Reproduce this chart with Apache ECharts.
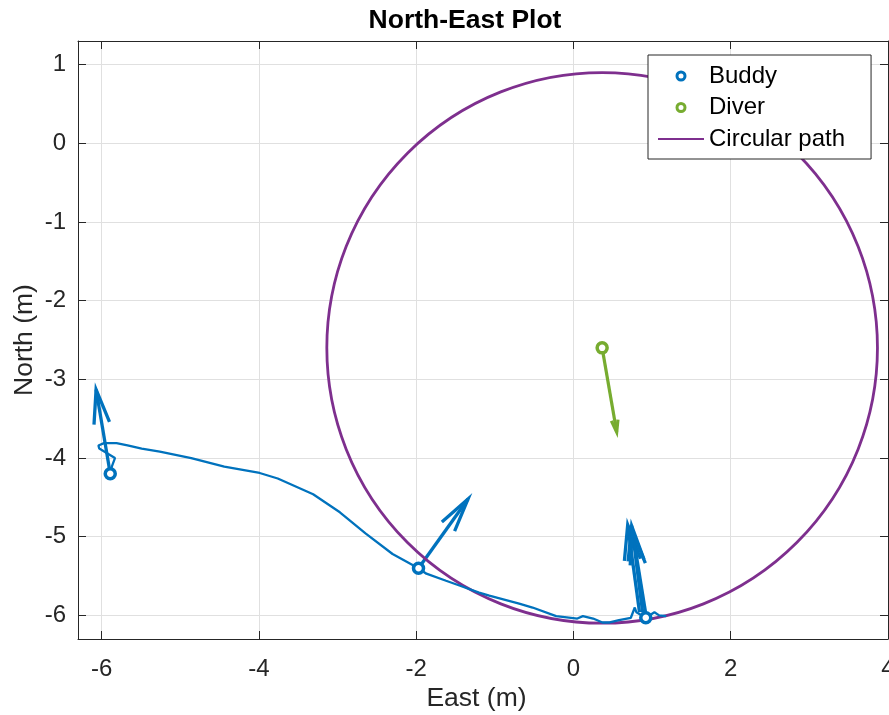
<!DOCTYPE html>
<html>
<head>
<meta charset="utf-8">
<title>North-East Plot</title>
<script src="https://cdn.jsdelivr.net/npm/echarts@6/dist/echarts.min.js"></script>
<style>
html, body { margin: 0; padding: 0; background: #fff; }
#main { width: 889px; height: 715px; }
</style>
</head>
<body>
<div id="main"></div>
<script>
var myChart = echarts.init(document.getElementById('main'));

// buddy track [east, north] in metres
var buddyPath = [
    [-5.89, -4.20], [-5.87, -4.11], [-5.83, -4.00], [-6.03, -3.88], [-6.04, -3.84],
    [-5.97, -3.81], [-5.81, -3.81], [-5.67, -3.84], [-5.49, -3.88], [-5.26, -3.92],
    [-4.86, -4.00], [-4.44, -4.11], [-3.99, -4.19], [-3.76, -4.26], [-3.31, -4.46],
    [-2.97, -4.69], [-2.64, -4.96], [-2.30, -5.22], [-1.97, -5.40], [-1.87, -5.47],
    [-1.62, -5.56], [-1.45, -5.62], [-1.20, -5.71], [-1.07, -5.75], [-0.69, -5.85],
    [-0.52, -5.90], [-0.22, -6.01], [0.05, -6.04], [0.12, -6.01], [0.25, -6.04],
    [0.37, -6.09], [0.46, -6.09], [0.58, -6.06], [0.73, -6.03], [0.78, -5.90],
    [0.80, -5.96], [0.92, -6.03], [1.03, -5.96], [1.09, -6.00], [1.18, -6.01]
];
var buddyMarks = [[-5.89, -4.20], [-1.97, -5.40], [0.92, -6.03]];
// quiver rows: east, north, dEast, dNorth
var buddyQuiver = [
    [-5.89, -4.20, -0.18, 1.07],
    [-1.97, -5.40, 0.63, 0.88],
    [0.84, -5.96, -0.15, 1.11],
    [0.88, -5.96, -0.14, 1.10],
    [0.92, -5.98, -0.17, 1.05]
];
var diverMarks = [[0.365, -2.6]];
var diverQuiver = [[0.365, -2.6, 0.185, -1.07]];
// circle: centre east, centre north, radius
var circlePath = [[0.365, -2.6, 3.5]];

var xTicks = [-6, -4, -2, 0, 2, 4];
var yTicks = [-6, -5, -4, -3, -2, -1, 0, 1];

var axisColor = '#262626';
var buddyColor = '#0072BD';
var diverColor = '#77AC30';
var pathColor = '#7E2F8E';
var fontName = 'Liberation Sans, Arial, Helvetica, sans-serif';

// arrow like matlab quiver: shaft + two barbs
function quiverItem(alpha, beta, color, width) {
    return function (params, api) {
        var x = api.value(0), y = api.value(1), u = api.value(2), v = api.value(3);
        var p0 = api.coord([x, y]);
        var p1 = api.coord([x + u, y + v]);
        var h1 = api.coord([x + u - alpha * (u + beta * v), y + v - alpha * (v - beta * u)]);
        var h2 = api.coord([x + u - alpha * (u - beta * v), y + v - alpha * (v + beta * u)]);
        return {
            type: 'group',
            children: [
                { type: 'polyline', shape: { points: [p0, p1] }, style: { stroke: color, lineWidth: width, fill: 'none' } },
                { type: 'polyline', shape: { points: [h1, p1, h2] }, style: { stroke: color, lineWidth: width, fill: 'none' } }
            ]
        };
    };
}

function makeXAxis(pos, main) {
    return {
        type: 'value',
        position: pos,
        min: -6.3,
        max: 4,
        name: main ? 'East (m)' : '',
        nameLocation: 'middle',
        nameGap: 46,
        nameMoveOverlap: false,
        nameTextStyle: { fontSize: 26.5, color: axisColor, padding: [0, 13, 0, 0] },
        axisLine: { show: true, onZero: false, lineStyle: { color: axisColor, width: 1 } },
        axisTick: { show: true, inside: true, length: 8, customValues: xTicks, lineStyle: { color: axisColor } },
        axisLabel: { show: main, customValues: xTicks, fontSize: 24, color: axisColor, margin: 18 },
        splitLine: { show: main, lineStyle: { color: '#e0e0e0', width: 1 } }
    };
}
function makeYAxis(pos, main) {
    return {
        type: 'value',
        position: pos,
        min: -6.3,
        max: 1.3,
        name: main ? 'North (m)' : '',
        nameLocation: 'middle',
        nameGap: 40,
        nameMoveOverlap: false,
        nameTextStyle: { fontSize: 26.5, color: axisColor },
        axisLine: { show: true, onZero: false, lineStyle: { color: axisColor, width: 1 } },
        axisTick: { show: true, inside: true, length: 8, customValues: yTicks, lineStyle: { color: axisColor } },
        axisLabel: { show: main, customValues: yTicks, fontSize: 24, color: axisColor, margin: 12 },
        splitLine: { show: main, lineStyle: { color: '#e0e0e0', width: 1 } }
    };
}

option = {
    animation: false,
    backgroundColor: '#fff',
    textStyle: { fontFamily: fontName },
    title: {
        text: 'North-East Plot',
        left: 465,
        top: 7,
        padding: 0,
        textAlign: 'center',
        textStyle: { fontSize: 26.5, fontWeight: 'bold', color: '#000' }
    },
    grid: { left: 78, right: 1, top: 41, bottom: 76, containLabel: false, outerBoundsMode: 'none' },
    legend: {
        data: [
            { name: 'Buddy', icon: 'circle', itemStyle: { color: '#fff', borderColor: buddyColor, borderWidth: 3, opacity: 1 } },
            { name: 'Diver', icon: 'circle', itemStyle: { color: '#fff', borderColor: diverColor, borderWidth: 3, opacity: 1 } },
            { name: 'Circular path', itemStyle: { color: 'rgba(0,0,0,0)', borderWidth: 0, opacity: 0 } }
        ],
        orient: 'vertical',
        left: 648,
        top: 55,
        itemWidth: 46,
        itemHeight: 8,
        itemGap: 7.5,
        padding: [9, 26, 8, 9],
        borderColor: axisColor,
        borderWidth: 1,
        borderRadius: 0,
        backgroundColor: '#fff',
        textStyle: { fontSize: 24, color: '#000' }
    },
    xAxis: [makeXAxis('bottom', true), makeXAxis('top', false)],
    yAxis: [makeYAxis('left', true), makeYAxis('right', false)],
    series: [
        {
            name: 'Buddy',
            type: 'scatter',
            data: buddyMarks,
            symbol: 'circle',
            symbolSize: 10,
            z: 3,
            itemStyle: { color: '#fff', borderColor: buddyColor, borderWidth: 3.5, opacity: 1 }
        },
        {
            name: 'Buddy',
            type: 'line',
            data: buddyPath,
            showSymbol: false,
            symbol: 'none',
            lineStyle: { color: buddyColor, width: 2.3 }
        },
        {
            name: 'Buddy',
            type: 'custom',
            data: buddyQuiver,
            renderItem: quiverItem(0.4, 0.23, buddyColor, 3.3)
        },
        {
            name: 'Diver',
            type: 'scatter',
            data: diverMarks,
            symbol: 'circle',
            symbolSize: 10,
            z: 3,
            itemStyle: { color: '#fff', borderColor: diverColor, borderWidth: 3.5, opacity: 1 }
        },
        {
            name: 'Diver',
            type: 'custom',
            data: diverQuiver,
            renderItem: quiverItem(0.14, 0.28, diverColor, 3.2)
        },
        {
            name: 'Circular path',
            type: 'line',
            data: [],
            symbol: 'none',
            lineStyle: { color: pathColor, width: 2.8 },
            itemStyle: { color: pathColor }
        },
        {
            name: 'Circular path',
            type: 'custom',
            data: circlePath,
            itemStyle: { color: pathColor },
            renderItem: function (params, api) {
                var c = api.coord([api.value(0), api.value(1)]);
                var s = api.size([api.value(2), api.value(2)]);
                return {
                    type: 'circle',
                    shape: { cx: c[0], cy: c[1], r: (s[0] + s[1]) / 2 },
                    style: { stroke: pathColor, lineWidth: 2.8, fill: 'none' }
                };
            }
        }
    ]
};

myChart.setOption(option);
</script>
</body>
</html>
